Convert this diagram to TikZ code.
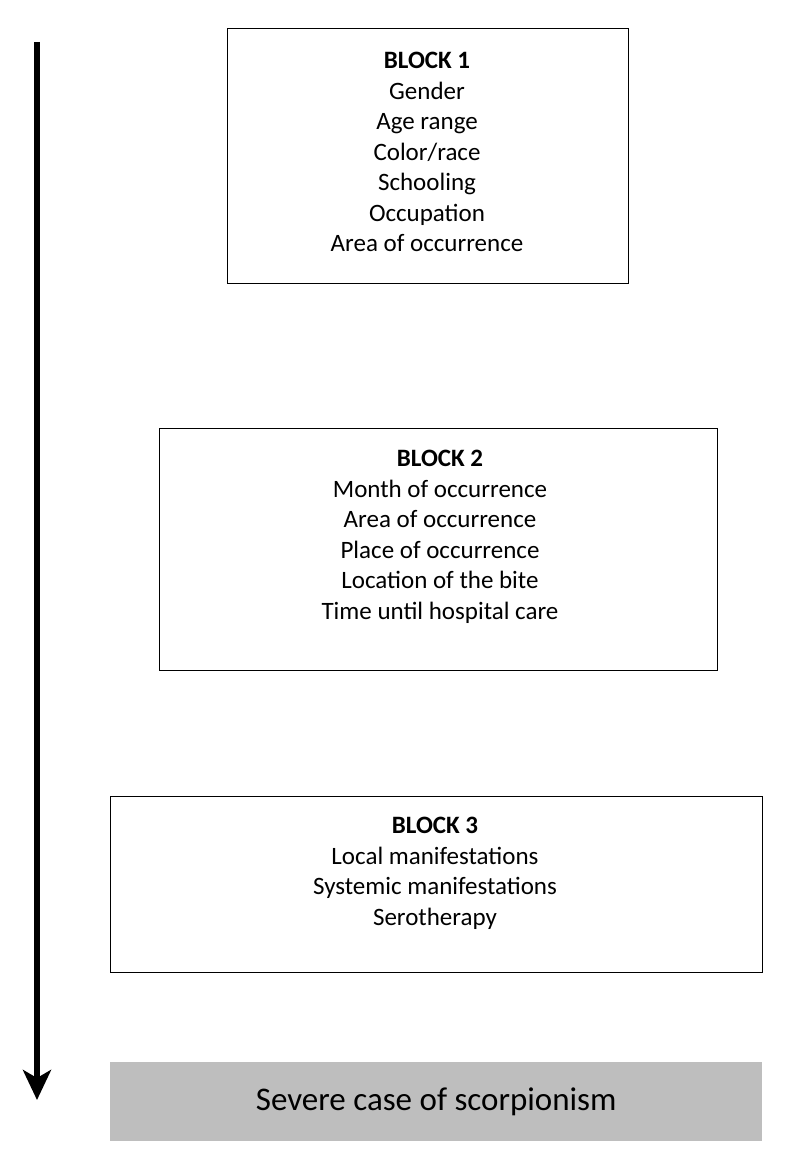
\documentclass[tikz,border=0pt]{standalone}
\usepackage{fontspec}
\setmainfont{Carlito}
\usetikzlibrary{arrows.meta}
\begin{document}
\begin{tikzpicture}[x=1pt,y=-1pt,
  blockbox/.style={draw,line width=1.3pt},
  blocktext/.style={anchor=north,align=center,inner sep=0pt,font=\fontsize{25}{30.5}\selectfont}]
\useasboundingbox (0,0) rectangle (800,1174);
\node[blockbox,minimum width=401,minimum height=255,anchor=north west] (b1) at (227,28) {};
\node[blocktext] (t1) at (427,52) {\textbf{BLOCK 1}\\Gender\\Age range\\Color/race\\Schooling\\Occupation\\Area of occurrence};
\node[blockbox,minimum width=558,minimum height=242,anchor=north west] (b2) at (159,428) {};
\node[blocktext] (t2) at (440,450) {\textbf{BLOCK 2}\\Month of occurrence\\Area of occurrence\\Place of occurrence\\Location of the bite\\Time until hospital care};
\node[blockbox,minimum width=652,minimum height=176,anchor=north west] (b3) at (110,796) {};
\node[blocktext] (t3) at (435,817) {\textbf{BLOCK 3}\\Local manifestations\\Systemic manifestations\\Serotherapy};
\node[fill={rgb,255:red,190;green,190;blue,190},minimum width=652,minimum height=79,anchor=north west,inner sep=0pt,font=\fontsize{33}{36}\selectfont] (sev) at (110,1062) {Severe case of scorpionism};
\coordinate (top) at (37,42);
\coordinate (bot) at (37,1100);
\draw[line width=6pt,-{Stealth[length=30pt,width=28pt,inset=8pt]}] (top) -- (bot);
\end{tikzpicture}
\end{document}
